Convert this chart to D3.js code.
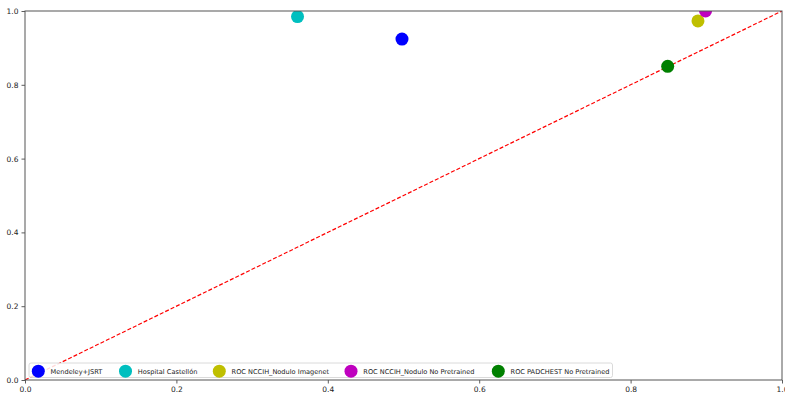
<!DOCTYPE html>
<html>
<head>
<meta charset="utf-8">
<script src="https://cdn.jsdelivr.net/npm/d3@7"></script>
<style>
html,body{margin:0;padding:0;background:#fff;}
svg{display:block;font-family:"DejaVu Sans",sans-serif;}
</style>
</head>
<body>
<svg id="chart" width="785" height="395"></svg>
<script>
const labels = ["Mendeley+JSRT","Hospital Castellón","ROC NCCIH_Nodulo Imagenet","ROC NCCIH_Nodulo No Pretrained","ROC PADCHEST No Pretrained"];
const xValues = [0.498, 0.36, 0.889, 0.899, 0.849];
const yValues = [0.924, 0.985, 0.973, 1.0, 0.85];
const colors = ["#0000ff","#00bfbf","#bfbf00","#bf00bf","#008000"];
const tickValues = [0, 0.2, 0.4, 0.6, 0.8, 1.0];
const diagonal = [[0,0],[1,1]];

const svg = d3.select("#chart");
const L = 25, R = 782, T = 11, B = 380;
const x = d3.scaleLinear().domain([0,1]).range([L,R]);
const y = d3.scaleLinear().domain([0,1]).range([B,T]);

svg.append("defs").append("clipPath").attr("id","clip")
  .append("rect").attr("x",L).attr("y",T).attr("width",R-L).attr("height",B-T);

const plot = svg.append("g").attr("clip-path","url(#clip)");

plot.append("path")
  .datum(diagonal)
  .attr("d", d3.line().x(d=>x(d[0])).y(d=>y(d[1])))
  .attr("fill","none").attr("stroke","#ff0000").attr("stroke-width",1.2)
  .attr("stroke-dasharray","4,2");

plot.selectAll("circle.pt").data(labels).join("circle")
  .attr("class","pt")
  .attr("cx",(d,i)=>x(xValues[i])).attr("cy",(d,i)=>y(yValues[i]))
  .attr("r",6.5).attr("fill",(d,i)=>colors[i]);

// axes
const fmt = d3.format(".1f");
const xAxis = svg.append("g").attr("transform",`translate(0,${B})`)
  .call(d3.axisBottom(x).tickValues(tickValues).tickFormat(fmt).tickSize(3.5).tickPadding(3));
const yAxis = svg.append("g").attr("transform",`translate(${L},0)`)
  .call(d3.axisLeft(y).tickValues(tickValues).tickFormat(fmt).tickSize(3.5).tickPadding(3));
[xAxis,yAxis].forEach(a=>{
  a.select(".domain").remove();
  a.selectAll(".tick line").attr("stroke","#333").attr("stroke-width",0.8);
  a.selectAll(".tick text").attr("fill","#222").style("font-size","7.5px").style("font-family","DejaVu Sans");
});

// frame
svg.append("rect").attr("x",L).attr("y",T).attr("width",R-L).attr("height",B-T)
  .attr("fill","none").attr("stroke","#555").attr("stroke-width",1);

// legend
const legendMarkerX = [38.3, 125.5, 219.3, 351, 498.3];
const lg = svg.append("g");
lg.append("rect").attr("x",29).attr("y",363).attr("width",583.5).attr("height",14.5)
  .attr("rx",2).attr("fill","#fff").attr("fill-opacity",0.85).attr("stroke","#d0d0d0").attr("stroke-width",0.8);
const items = lg.selectAll("g.item").data(labels).join("g").attr("class","item");
items.append("circle").attr("cx",(d,i)=>legendMarkerX[i]).attr("cy",371.2).attr("r",6.5)
  .attr("fill",(d,i)=>colors[i]);
items.append("text").attr("x",(d,i)=>legendMarkerX[i]+12.3).attr("y",373.5)
  .style("font-size","6.6px").attr("fill","#222").text(d=>d);
</script>
</body>
</html>
